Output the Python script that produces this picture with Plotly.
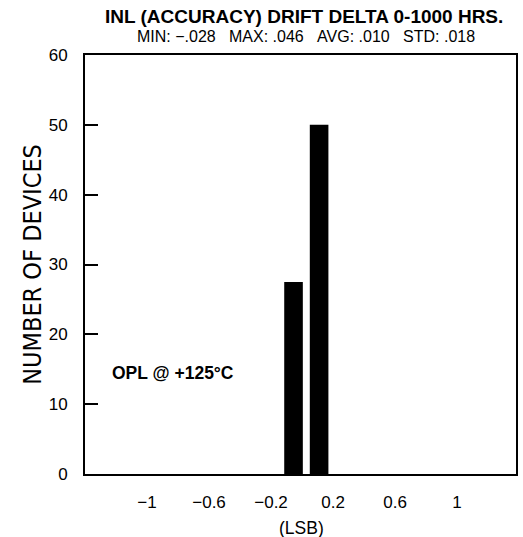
import plotly.graph_objects as go

# Data
bin_centers = [-0.055, 0.11]   # LSB
bin_width = 0.12
counts = [27.5, 50]
x_ticks = [-1, -0.6, -0.2, 0.2, 0.6, 1]
x_tick_text = ["\u22121", "\u22120.6", "\u22120.2", "0.2", "0.6", "1"]
y_ticks = [0, 10, 20, 30, 40, 50, 60]

title = "INL (ACCURACY) DRIFT DELTA 0-1000 HRS."
NB = "\u00a0"
subtitle = "MIN: \u2212.028" + NB * 3 + "MAX: .046" + NB * 3 + "AVG: .010" + NB * 3 + "STD: .018"
note = "OPL @ +125\u00b0C"

# page body margin is removed by the post_script below
W, H = 523, 537
L, R, T, B = 85, 5, 55, 63
PW, PH = W - L - R, H - T - B


def px(x):
    return (x - L) / PW


def py(y):
    return 1 - (y - T) / PH


fig = go.Figure()
fig.add_trace(go.Bar(x=bin_centers, y=counts, width=bin_width,
                     marker=dict(color="black", line=dict(width=0))))

fig.update_layout(
    width=W, height=H,
    margin=dict(l=L, r=R, t=T, b=B),
    paper_bgcolor="white", plot_bgcolor="white",
    showlegend=False,
    font=dict(family="Liberation Sans, Arial", color="black", size=17),
    xaxis=dict(range=[-1.4, 1.38], tickvals=x_ticks, ticktext=x_tick_text,
               showgrid=False, zeroline=False, showline=True, linecolor="black",
               linewidth=2, mirror=True, ticks="", ticklabelstandoff=12,
               tickfont=dict(size=17)),
    yaxis=dict(range=[0, 60], tickvals=y_ticks, showgrid=False, zeroline=False,
               showline=True, linecolor="black", linewidth=2, mirror=True,
               ticks="inside", ticklen=13, tickwidth=2, tickcolor="black",
               ticklabelstandoff=12, tickfont=dict(size=17)),
    annotations=[
        dict(text="<b>" + title + "</b>", xref="paper", yref="paper",
             x=px(305), y=py(16.5), xanchor="center", yanchor="middle",
             showarrow=False, font=dict(size=19), borderpad=0),
        dict(text=subtitle, xref="paper", yref="paper",
             x=px(307), y=py(36.5), xanchor="center", yanchor="middle",
             showarrow=False, font=dict(size=16), borderpad=0),
        dict(text="<b>" + note + "</b>", xref="x", yref="y",
             x=-1.24, y=14.4, xanchor="left", yanchor="middle", showarrow=False,
             font=dict(size=17.5)),
        dict(text="(LSB)", xref="paper", yref="paper",
             x=px(303), y=py(527.5), xanchor="center", yanchor="middle",
             showarrow=False, font=dict(size=17.5)),
        dict(text="NUMBER OF DEVICES", xref="paper", yref="paper",
             x=px(32), y=0.5, textangle=-90,
             xanchor="center", yanchor="middle", showarrow=False,
             font=dict(size=25, family="Liberation Sans Narrow, DejaVu Sans Condensed, Liberation Sans")),
    ],
)

fig.write_html("out.html",
               config={"displayModeBar": False},
               post_script="document.body.style.margin='0px';document.body.style.overflow='hidden';")
